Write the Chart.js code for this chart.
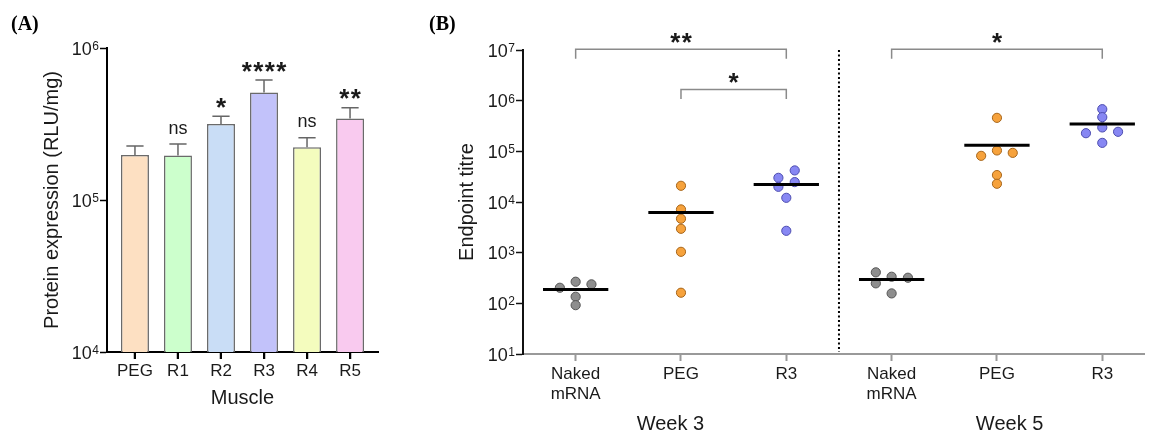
<!DOCTYPE html>
<html>
<head>
<meta charset="utf-8">
<script src="https://cdn.jsdelivr.net/npm/chart.js@4.4.1/dist/chart.umd.min.js"></script>
<style>
  body { margin: 0; background: #fff; width: 1150px; height: 430px; overflow: hidden; position: relative; }
  #wrapA { position: absolute; left: 0; top: 0; width: 400px; height: 430px; }
  #wrapB { position: absolute; left: 400px; top: 0; width: 750px; height: 430px; }
</style>
</head>
<body>
<div id="wrapA"><canvas id="chartA" width="400" height="430"></canvas></div>
<div id="wrapB"><canvas id="chartB" width="750" height="430"></canvas></div>
<script>
// panel A - protein expression per muscle
const muscles = ['PEG', 'R1', 'R2', 'R3', 'R4', 'R5'];
const expression = [198000, 196000, 316000, 510000, 222000, 344000];
const expressionUpper = [227000, 234000, 355000, 615000, 257000, 405000];
const expressionSig = ['', 'ns', '*', '****', 'ns', '**'];
const barColors = ['#fde0c2', '#ccffcc', '#c9ddf6', '#c2c2fa', '#f4fcbe', '#f9caef'];
const ticksA = [1e4, 1e5, 1e6];

// panel B - endpoint titres
const groupsB = ['Naked mRNA', 'PEG', 'R3', 'Naked mRNA', 'PEG', 'R3'];
const weeks = ['Week 3', 'Week 5'];
const nakedW3 = [203, 267, 237, 135, 92];
const nakedW3Jitter = [-0.15, 0, 0.15, 0, 0];
const pegW3 = [20900, 7140, 4670, 2960, 1040, 162];
const pegW3Jitter = [0, 0, 0, 0, 0, 0];
const r3W3 = [42000, 30000, 24700, 19950, 12100, 2700];
const r3W3Jitter = [0.08, -0.075, 0.08, -0.075, 0, 0];
const nakedW5 = [409, 335, 320, 248, 157];
const nakedW5Jitter = [-0.15, 0, 0.155, -0.15, 0];
const pegW5 = [458000, 104000, 93300, 81500, 34000, 22900];
const pegW5Jitter = [0, 0, 0.15, -0.15, 0, 0];
const r3W5 = [679000, 473000, 296000, 243000, 228000, 147000];
const r3W5Jitter = [0, 0, 0, 0.15, -0.155, 0];
const titreMedians = [188, 6240, 22200, 297, 132000, 348000];
const ticksB = [1e1, 1e2, 1e3, 1e4, 1e5, 1e6, 1e7];
const bracketFrom = [0, 1, 3];
const bracketTo = [2, 2, 5];
const bracketLevel = [1.03e7, 1.66e6, 1.03e7];
const bracketStars = ['**', '*', '*'];

const FONT = '"Liberation Sans", Arial, sans-serif';
const INK = '#1a1a1a';

function drawPowerLabels(ctx, scale, powers) {
  ctx.save();
  ctx.fillStyle = INK;
  ctx.textAlign = 'right';
  ctx.textBaseline = 'alphabetic';
  powers.forEach(v => {
    const y = scale.getPixelForValue(v);
    const exp = String(Math.round(Math.log10(v)));
    let x = scale.right - 8;
    ctx.font = '12px ' + FONT;
    ctx.fillText(exp, x, y + 2);
    x -= ctx.measureText(exp).width + 0.5;
    ctx.font = '18px ' + FONT;
    ctx.fillText('10', x, y + 6.5);
  });
  ctx.restore();
}

function drawSig(ctx, text, cx, cy) {
  ctx.save();
  ctx.fillStyle = INK;
  ctx.textAlign = 'center';
  ctx.textBaseline = 'alphabetic';
  if (text === 'ns') {
    ctx.font = '18px ' + FONT;
    ctx.fillText(text, cx, cy + 4.7);
  } else {
    ctx.font = 'bold 26px ' + FONT;
    const n = text.length;
    for (let i = 0; i < n; i++) {
      ctx.fillText('*', cx + (i - (n - 1) / 2) * 11.5, cy + 14.5);
    }
  }
  ctx.restore();
}

function panelLabel(ctx, text, x) {
  ctx.save();
  ctx.fillStyle = '#000';
  ctx.font = 'bold 20px "Liberation Serif", "Times New Roman", serif';
  ctx.textAlign = 'left';
  ctx.textBaseline = 'alphabetic';
  ctx.fillText(text, x, 30);
  ctx.restore();
}

const onlyTicks = (values) => (scale) => { scale.ticks = values.map(v => ({ value: v })); };

// ---------- chart A ----------
const panelAPlugin = {
  id: 'panelA',
  afterDatasetsDraw(chart) {
    const ctx = chart.ctx;
    const x = chart.scales.x, y = chart.scales.y;
    ctx.save();
    ctx.strokeStyle = '#666';
    ctx.lineWidth = 1.5;
    expression.forEach((v, i) => {
      const px = x.getPixelForValue(i);
      const top = y.getPixelForValue(v);
      const up = y.getPixelForValue(expressionUpper[i]);
      ctx.beginPath();
      ctx.moveTo(px, top);
      ctx.lineTo(px, up);
      ctx.moveTo(x.getPixelForValue(i - 0.2), up);
      ctx.lineTo(x.getPixelForValue(i + 0.2), up);
      ctx.stroke();
      if (expressionSig[i]) drawSig(ctx, expressionSig[i], px, up - 15);
    });
    ctx.restore();
  },
  afterDraw(chart) {
    const ctx = chart.ctx;
    const x = chart.scales.x;
    const base = chart.chartArea.bottom;
    // category tick marks under the bars
    ctx.save();
    ctx.strokeStyle = '#000';
    ctx.lineWidth = 2;
    muscles.forEach((m, i) => {
      const px = Math.round(x.getPixelForValue(i));
      ctx.beginPath();
      ctx.moveTo(px, base);
      ctx.lineTo(px, base + 7);
      ctx.stroke();
    });
    ctx.restore();
    drawPowerLabels(ctx, chart.scales.y, ticksA);
    panelLabel(ctx, '(A)', 11);
  }
};

new Chart(document.getElementById('chartA'), {
  type: 'bar',
  data: {
    datasets: [{
      data: expression.map((v, i) => ({ x: i, y: v })),
      backgroundColor: barColors,
      borderColor: '#6a6a6a',
      borderWidth: 1.5,
      barPercentage: 0.65,
      categoryPercentage: 1
    }]
  },
  options: {
    responsive: false,
    animation: false,
    layout: { padding: { top: 48, right: 22, bottom: 0, left: 0 } },
    plugins: { legend: { display: false }, tooltip: { enabled: false } },
    scales: {
      x: {
        type: 'linear',
        offset: false,
        min: -0.65,
        max: 5.65,
        afterBuildTicks: onlyTicks([0, 1, 2, 3, 4, 5]),
        afterFit: (s) => { s.height = 78; },
        ticks: {
          callback: (v) => muscles[v],
          font: { family: FONT, size: 17 },
          color: INK,
          padding: 2,
          maxRotation: 0,
          autoSkip: false
        },
        grid: { display: true, offset: false, drawOnChartArea: false, drawTicks: true, tickLength: 7, tickColor: '#000', tickWidth: 1.5 },
        border: { display: true, color: '#000', width: 2 },
        title: { display: true, text: 'Muscle', color: INK, font: { family: FONT, size: 20 }, padding: { top: 0, bottom: 20 } }
      },
      y: {
        type: 'logarithmic',
        min: 1e4,
        max: 1e6,
        afterBuildTicks: onlyTicks(ticksA),
        afterFit: (s) => { s.width = 107; },
        ticks: { display: false },
        grid: { display: true, drawOnChartArea: false, drawTicks: true, tickLength: 7, tickColor: '#000', tickWidth: 1.5 },
        border: { display: true, color: '#000', width: 2 },
        title: { display: true, text: 'Protein expression (RLU/mg)', color: INK, font: { family: FONT, size: 20 }, padding: { top: 40, bottom: 0 } }
      }
    }
  },
  plugins: [panelAPlugin]
});

// ---------- chart B ----------
function pts(values, jitter, pos) {
  return values.map((v, i) => ({ x: pos + jitter[i], y: v }));
}

const panelBPlugin = {
  id: 'panelB',
  afterDatasetsDraw(chart) {
    const ctx = chart.ctx;
    const x = chart.scales.x, y = chart.scales.y;
    ctx.save();
    ctx.strokeStyle = '#000';
    ctx.lineWidth = 3;
    titreMedians.forEach((m, i) => {
      const py = y.getPixelForValue(m);
      ctx.beginPath();
      ctx.moveTo(x.getPixelForValue(i - 0.31), py);
      ctx.lineTo(x.getPixelForValue(i + 0.31), py);
      ctx.stroke();
    });
    ctx.restore();
  },
  afterDraw(chart) {
    const ctx = chart.ctx;
    const x = chart.scales.x, y = chart.scales.y;
    const area = chart.chartArea;
    ctx.save();
    // week divider
    ctx.strokeStyle = '#000';
    ctx.lineWidth = 2;
    ctx.setLineDash([2, 2.5]);
    const dx = x.getPixelForValue(2.5);
    ctx.beginPath();
    ctx.moveTo(dx, y.getPixelForValue(1e7));
    ctx.lineTo(dx, area.bottom - 2);
    ctx.stroke();
    ctx.setLineDash([]);
    // significance brackets
    ctx.strokeStyle = '#8a8a8a';
    ctx.lineWidth = 1.5;
    bracketFrom.forEach((f, i) => {
      const x1 = x.getPixelForValue(f), x2 = x.getPixelForValue(bracketTo[i]);
      const py = y.getPixelForValue(bracketLevel[i]);
      ctx.beginPath();
      ctx.moveTo(x1, py + 9.5);
      ctx.lineTo(x1, py);
      ctx.lineTo(x2, py);
      ctx.lineTo(x2, py + 9.5);
      ctx.stroke();
      drawSig(ctx, bracketStars[i], (x1 + x2) / 2, py - 12.6);
    });
    // week titles
    ctx.fillStyle = INK;
    ctx.font = '20px ' + FONT;
    ctx.textAlign = 'center';
    ctx.textBaseline = 'alphabetic';
    ctx.fillText(weeks[0], x.getPixelForValue(0.9), 430);
    ctx.fillText(weeks[1], x.getPixelForValue(4.12), 430);
    ctx.restore();
    drawPowerLabels(ctx, y, ticksB);
    panelLabel(ctx, '(B)', 29);
  }
};

const dotStyle = (fill, edge) => ({
  backgroundColor: fill,
  borderColor: edge,
  borderWidth: 1,
  pointRadius: 4.6,
  pointHoverRadius: 4.6
});

new Chart(document.getElementById('chartB'), {
  type: 'scatter',
  data: {
    datasets: [
      Object.assign({ data: [...pts(nakedW3, nakedW3Jitter, 0), ...pts(nakedW5, nakedW5Jitter, 3)] }, dotStyle('#8e8e8e', '#555')),
      Object.assign({ data: [...pts(pegW3, pegW3Jitter, 1), ...pts(pegW5, pegW5Jitter, 4)] }, dotStyle('#f6a23c', '#a8661a')),
      Object.assign({ data: [...pts(r3W3, r3W3Jitter, 2), ...pts(r3W5, r3W5Jitter, 5)] }, dotStyle('#8787f3', '#4d4db0'))
    ]
  },
  options: {
    responsive: false,
    animation: false,
    layout: { padding: { top: 50, right: 0, bottom: 0, left: 0 } },
    plugins: { legend: { display: false }, tooltip: { enabled: false } },
    scales: {
      x: {
        type: 'linear',
        min: -0.5,
        max: 5.4,
        afterBuildTicks: onlyTicks([0, 1, 2, 3, 4, 5]),
        afterFit: (s) => { s.height = 76; },
        ticks: {
          callback: (v) => groupsB[v].split(' '),
          font: { family: FONT, size: 17 },
          color: INK,
          padding: 3,
          maxRotation: 0,
          autoSkip: false
        },
        grid: { display: true, drawOnChartArea: false, drawTicks: true, tickLength: 7, tickColor: '#999', tickWidth: 2 },
        border: { display: true, color: '#999', width: 2 }
      },
      y: {
        type: 'logarithmic',
        min: 1e1,
        max: 1e7,
        afterBuildTicks: onlyTicks(ticksB),
        afterFit: (s) => { s.width = 123; },
        ticks: { display: false },
        grid: { display: true, drawOnChartArea: false, drawTicks: true, tickLength: 7, tickColor: '#111', tickWidth: 1.5 },
        border: { display: true, color: '#111', width: 2 },
        title: { display: true, text: 'Endpoint titre', color: INK, font: { family: FONT, size: 20 }, padding: { top: 55, bottom: 0 } }
      }
    }
  },
  plugins: [panelBPlugin]
});
</script>
</body>
</html>
